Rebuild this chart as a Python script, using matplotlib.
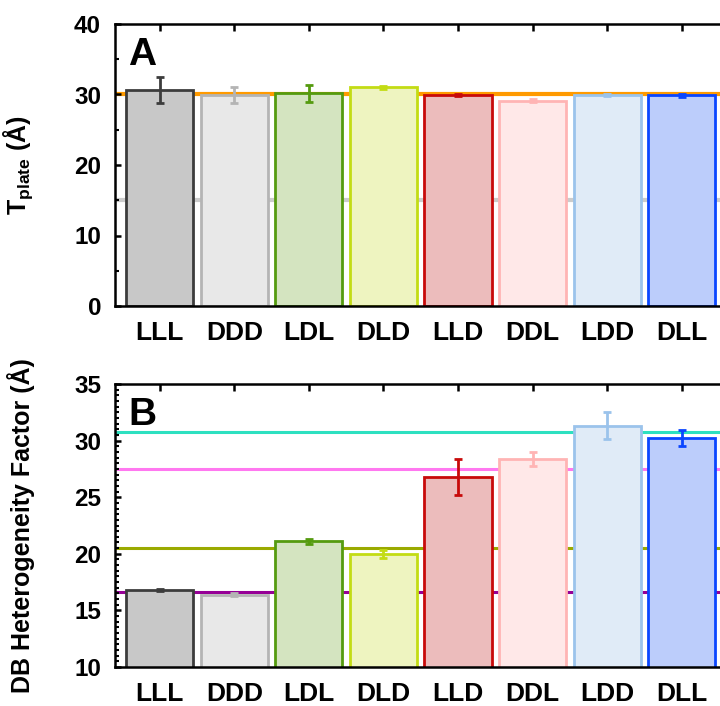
import matplotlib
matplotlib.use("Agg")
import matplotlib.pyplot as plt
from matplotlib.ticker import MultipleLocator

plt.rcParams['font.family'] = ['Liberation Sans', 'DejaVu Sans']
plt.rcParams['font.weight'] = 'bold'
plt.rcParams['mathtext.fontset'] = 'custom'
plt.rcParams['mathtext.bf'] = 'Liberation Sans:bold'
plt.rcParams['mathtext.rm'] = 'Liberation Sans:bold'

categories = ["LLL", "DDD", "LDL", "DLD", "LLD", "DDL", "LDD", "DLL"]
tplate = [30.6, 29.9, 30.2, 31.0, 29.9, 29.1, 29.9, 29.9]
tplate_err = [1.85, 1.1, 1.2, 0.15, 0.15, 0.2, 0.15, 0.2]
hetero = [16.8, 16.4, 21.1, 19.95, 26.8, 28.35, 31.3, 30.2]
hetero_err = [0.1, 0.1, 0.2, 0.35, 1.6, 0.6, 1.2, 0.7]

edge_colors = ["#3c3c3c", "#b4b4b4", "#559b0f", "#c3dc14", "#c80a0a", "#ffb4b4", "#9bc3eb", "#0a46ff"]
fill_colors = ["#c8c8c8", "#e8e8e8", "#d4e4c0", "#eef4c0", "#ecbcbc", "#ffe8e8", "#e0ebf7", "#bccdfb"]

ref_lines_A = [30.0, 15.0]
ref_colors_A = ["#ff9a00", "#cccccc"]
ref_lines_B = [30.8, 27.5, 20.5, 16.6]
ref_colors_B = ["#2de0c0", "#ff78f0", "#9aaa00", "#960096"]

fig = plt.figure(figsize=(7.2, 7.06), dpi=100)
W, H = 720, 706

def make_ax(top_px, bot_px):
    left = 115 / W
    right = 722 / W
    return fig.add_axes([left, (H - bot_px) / H, right - left, (bot_px - top_px) / H])

axA = make_ax(24, 306)
axB = make_ax(384, 667)

x = list(range(len(categories)))

def draw(ax, vals, errs, ylim, major, minor, lines, lcolors, lw_lines, letter, ylabel):
    for yv, c in zip(lines, lcolors):
        ax.axhline(yv, color=c, lw=lw_lines, zorder=1)
    ax.bar(x, vals, width=0.9, color=fill_colors, edgecolor=edge_colors,
           linewidth=2.0, zorder=2, bottom=0)
    for xi, v, e, c in zip(x, vals, errs, edge_colors):
        ax.errorbar(xi, v, yerr=e, color=c, lw=2.0, capsize=3.0, capthick=2.0, zorder=3)
    ax.set_xlim(-0.6, 7.54)
    ax.set_ylim(*ylim)
    ax.yaxis.set_major_locator(MultipleLocator(major))
    ax.yaxis.set_minor_locator(MultipleLocator(minor))
    ax.set_xticks(x)
    ax.set_xticklabels(categories, fontsize=19, fontweight='bold')
    ax.tick_params(axis='x', which='both', bottom=False, top=True, direction='in',
                   length=5, width=1.8, pad=11)
    ax.tick_params(axis='y', which='major', direction='in', length=4, width=1.8,
                   labelsize=17.5, pad=10, right=False)
    ax.tick_params(axis='y', which='minor', direction='in', length=3, width=1.5, right=False)
    for lbl in ax.get_yticklabels():
        lbl.set_fontweight('bold')
    for s in ax.spines.values():
        s.set_linewidth(1.8)
    ax.spines['right'].set_visible(False)
    ax.text(0.022, 0.955, letter, transform=ax.transAxes, fontsize=28,
            fontweight='bold', va='top', ha='left')
    ax.set_ylabel(ylabel, fontsize=18, fontweight='bold')
    ax.yaxis.set_label_coords(-0.132, 0.5)

draw(axA, tplate, tplate_err, (0, 40), 10, 5, ref_lines_A, ref_colors_A, 3.0, "A",
     r"T$_{\mathbf{plate}}$ (Å)")
draw(axB, hetero, hetero_err, (10, 35), 5, 0.5, ref_lines_B, ref_colors_B, 2.2, "B",
     "DB Heterogeneity Factor (Å)")

fig.savefig("out.png", dpi=100)
